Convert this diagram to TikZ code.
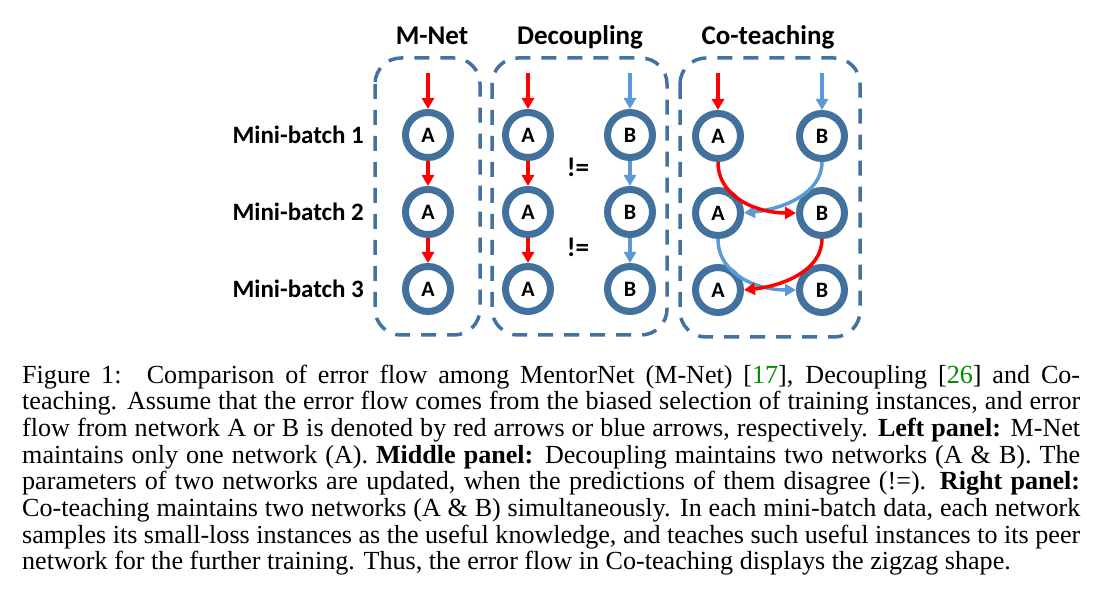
\documentclass[tikz,border=0pt]{standalone}
\usepackage{fontspec}
\setmainfont{Liberation Serif}
\newfontfamily\carlito{Carlito}
\usetikzlibrary{arrows.meta}
\definecolor{ring}{RGB}{65,113,156}
\definecolor{boxc}{RGB}{68,114,160}
\definecolor{redc}{RGB}{255,0,0}
\definecolor{bluec}{RGB}{91,155,213}
\definecolor{citec}{RGB}{0,140,0}
\setlength\parindent{0pt}
\begin{document}
\begin{tikzpicture}[x=1pt,y=-1pt,
 net/.style={circle,draw=ring,line width=7pt,fill=white,minimum size=45pt,inner sep=0pt,font=\carlito\bfseries\fontsize{22}{22}\selectfont},
 panel/.style={draw=boxc,line width=3.5pt,dash pattern=on 15pt off 11pt,rounded corners=26pt},
 title/.style={font=\carlito\bfseries\fontsize{27}{27}\selectfont,anchor=base,inner sep=0pt},
 rowlabel/.style={font=\carlito\bfseries\fontsize{25}{25}\selectfont,anchor=east,inner sep=0pt},
 neq/.style={font=\carlito\bfseries\fontsize{27}{27}\selectfont,inner sep=0pt},
 redarr/.style={draw=redc,line width=3.5pt,-{Triangle[width=12pt,length=11pt]}},
 bluearr/.style={draw=bluec,line width=3.5pt,-{Triangle[width=12pt,length=11pt]}},
]
\useasboundingbox (0,0) rectangle (1104,596);
% titles
\node[title] (t1) at (432,45) {M-Net};
\node[title] (t2) at (580,45) {Decoupling};
\node[title] (t3) at (768,45) {Co-teaching};
% panels
\draw[panel] (375,58) rectangle (480,335);
\draw[panel] (492,58) rectangle (667,335);
\draw[panel] (680,58) rectangle (860,337);
% row labels
\node[rowlabel] (r1) at (364,135) {Mini-batch 1};
\node[rowlabel] (r2) at (364,212) {Mini-batch 2};
\node[rowlabel] (r3) at (364,289) {Mini-batch 3};
% M-Net
\node[net] (m1) at (428,135) {A};
\node[net] (m2) at (428,212) {A};
\node[net] (m3) at (428,289) {A};
% Decoupling
\node[net] (da1) at (528,135) {A};
\node[net] (da2) at (528,212) {A};
\node[net] (da3) at (528,289) {A};
\node[net] (db1) at (630,135) {B};
\node[net] (db2) at (630,212) {B};
\node[net] (db3) at (630,289) {B};
\node[neq] (ne1) at (578,167) {!=};
\node[neq] (ne2) at (578,247) {!=};
% Co-teaching
\node[net] (ca1) at (718,136) {A};
\node[net] (ca2) at (718,213) {A};
\node[net] (ca3) at (718,290) {A};
\node[net] (cb1) at (822,136) {B};
\node[net] (cb2) at (822,213) {B};
\node[net] (cb3) at (822,290) {B};
% inputs
\coordinate (mi) at (428,73);
\coordinate (dai) at (528,73);
\coordinate (dbi) at (630,73);
\coordinate (cai) at (718,73);
\coordinate (cbi) at (822,73);
\draw[redarr] (mi) -- (m1);
\draw[redarr] (m1) -- (m2);
\draw[redarr] (m2) -- (m3);
\draw[redarr] (dai) -- (da1);
\draw[redarr] (da1) -- (da2);
\draw[redarr] (da2) -- (da3);
\draw[bluearr] (dbi) -- (db1);
\draw[bluearr] (db1) -- (db2);
\draw[bluearr] (db2) -- (db3);
\draw[redarr] (cai) -- (ca1);
\draw[bluearr] (cbi) -- (cb1);
% zigzag
\draw[bluearr] (cb1.south) .. controls +(0,32) and +(38,-4) .. (ca2.east);
\draw[redarr] (ca1.south) .. controls +(0,36) and +(-38,0) .. (cb2.west);
\draw[bluearr] (ca2.south) .. controls +(0,36) and +(-38,0) .. (cb3.west);
\draw[redarr] (cb2.south) .. controls +(0,32) and +(38,-4) .. (ca3.east);
% caption
\node[anchor=north west,text width=1058pt,align=justify,inner sep=0pt,
      font=\fontsize{26.1}{26.7}\selectfont] (cap) at (22,364.5) {%
Figure 1:\hspace{0.3em} Comparison of error flow among MentorNet (M-Net) [{\color{citec}17}], Decoupling [{\color{citec}26}] and Co-\linebreak
teaching. Assume that the error flow comes from the biased selection of training instances, and error\linebreak
flow from network A or B is denoted by red arrows or blue arrows, respectively. \textbf{Left panel:} M-Net\linebreak
maintains only one network (A). \textbf{Middle panel:} Decoupling maintains two networks (A \& B). The\linebreak
parameters of two networks are updated, when the predictions of them disagree (!=). \textbf{Right panel:}\linebreak
Co-teaching maintains two networks (A \& B) simultaneously. In each mini-batch data, each network\linebreak
samples its small-loss instances as the useful knowledge, and teaches such useful instances to its peer\linebreak
network for the further training. Thus, the error flow in Co-teaching displays the zigzag shape.};
\end{tikzpicture}
\end{document}
